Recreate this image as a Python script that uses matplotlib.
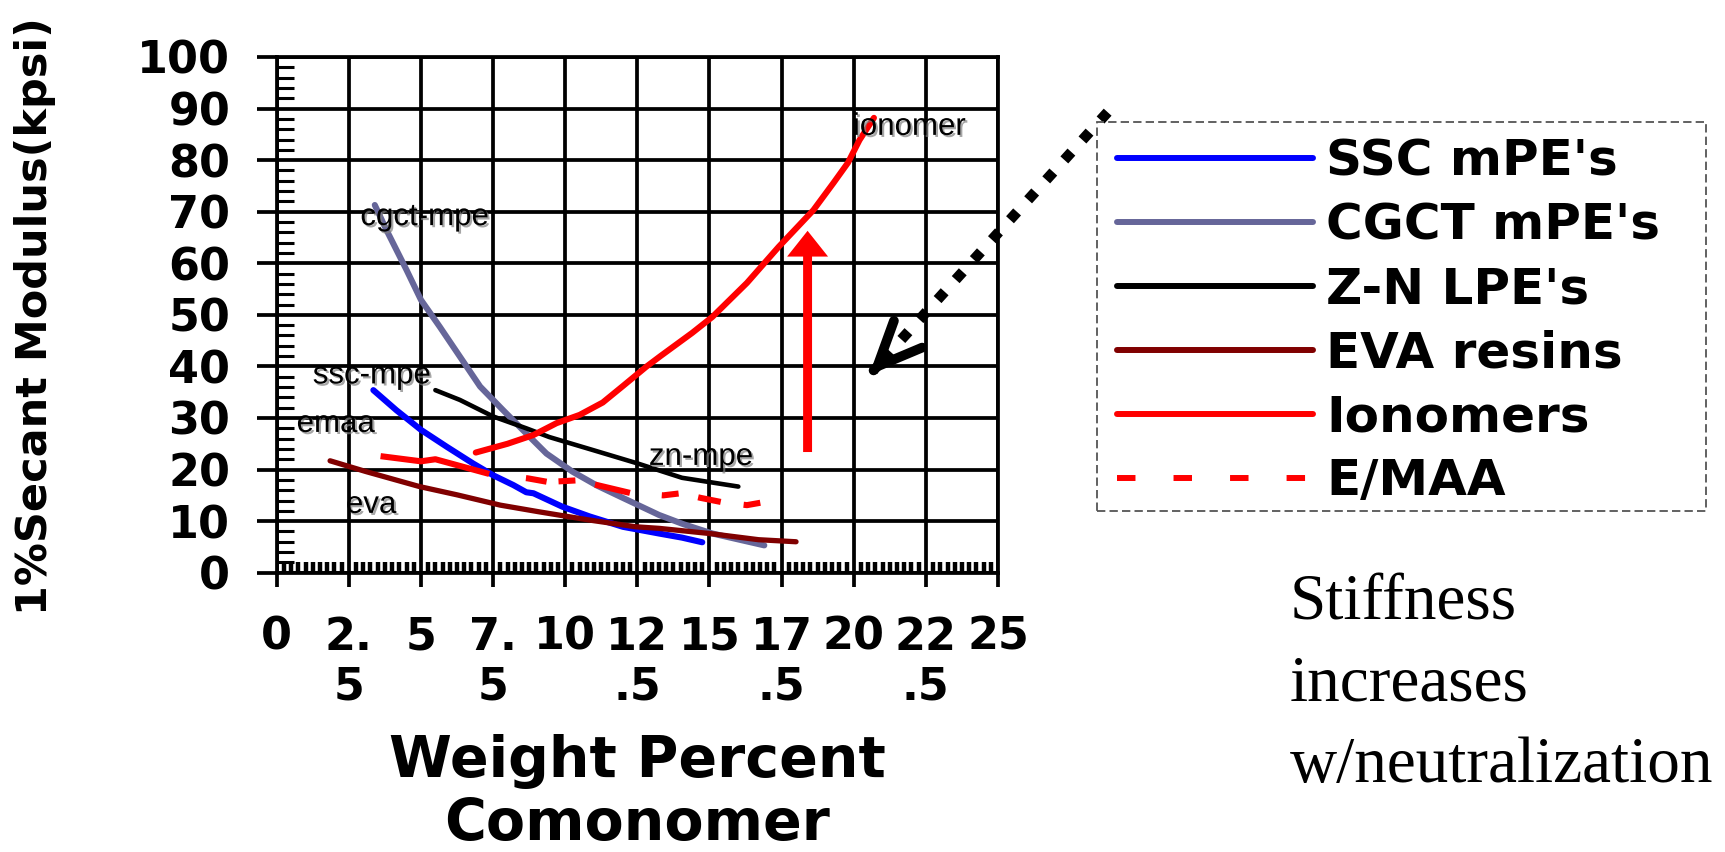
import numpy as np
import matplotlib
matplotlib.use('Agg')
import matplotlib.pyplot as plt
import matplotlib.patheffects as pe
from matplotlib.lines import Line2D
from matplotlib.patches import Rectangle
from matplotlib.ticker import MultipleLocator

plt.rcParams['lines.scale_dashes'] = False

# --- values (wt% comonomer, kpsi) ---
ssc_x = [3.35, 4.15, 5.0, 5.9, 6.8, 7.5, 8.2, 8.65, 8.9, 9.9, 10.85, 12.0, 13.25, 14.05, 14.75]
ssc_y = [35.4, 31.5, 27.7, 24.4, 21.2, 18.9, 17.0, 15.6, 15.4, 12.8, 10.9, 8.9, 7.6, 6.8, 5.9]

cgct_x = [3.4, 3.8, 4.5, 5.0, 5.65, 6.35, 7.05, 7.85, 8.65, 9.35, 10.25, 11.1, 12.0, 13.25, 14.1, 15.1, 16.9]
cgct_y = [71.3, 66.5, 58.7, 52.9, 47.7, 41.9, 36.1, 31.5, 27.0, 23.1, 19.6, 16.9, 14.5, 11.2, 9.4, 7.6, 5.3]

zn_x = [5.5, 6.35, 7.5, 8.65, 9.45, 10.95, 12.5, 14.05, 16.0]
zn_y = [35.4, 33.5, 30.3, 28.0, 26.3, 23.8, 21.2, 18.4, 16.7]

eva_x = [1.85, 3.1, 4.95, 6.25, 7.75, 9.1, 10.85, 12.45, 13.25, 15.0, 16.7, 18.0]
eva_y = [21.7, 19.6, 16.7, 15.1, 13.1, 11.8, 10.2, 8.9, 8.6, 7.6, 6.4, 6.0]

ion_x = [6.9, 8.0, 8.9, 9.7, 10.5, 11.3, 12.0, 12.8, 13.3, 14.4, 15.1, 16.3, 17.4, 18.6, 19.3, 19.8, 20.2, 20.7]
ion_y = [23.3, 25.0, 26.7, 29.0, 30.6, 33.0, 36.2, 39.9, 42.0, 46.5, 49.6, 56.2, 63.2, 70.3, 75.6, 79.5, 83.9, 88.2]

emaa_x = [3.6, 5.0, 5.5, 7.4, 8.7, 9.4, 10.4, 11.1, 12.3, 13.4, 14.0, 14.7, 15.5, 16.3, 16.9]
emaa_y = [22.6, 21.6, 22.0, 19.1, 18.3, 17.6, 17.9, 17.0, 15.4, 15.0, 15.4, 14.5, 13.6, 13.1, 13.7]

series_names = ["SSC mPE's", "CGCT mPE's", "Z-N LPE's", "EVA resins", "Ionomers", "E/MAA"]

xtick_vals = [0, 2.5, 5, 7.5, 10, 12.5, 15, 17.5, 20, 22.5, 25]
xtick_labels = ['0', '2.\n5', '5', '7.\n5', '10', '12\n.5', '15', '17\n.5', '20', '22\n.5', '25']

# curve labels: text, x, y (baseline)
curve_labels = [('cgct-mpe', 2.9, 67.4), ('ssc-mpe', 1.25, 36.7), ('emaa', 0.69, 27.3),
                ('eva', 2.4, 11.6), ('zn-mpe', 12.9, 20.9), ('ionomer', 19.97, 84.9)]

W, H = 1725, 852
fig = plt.figure(figsize=(W / 100, H / 100), dpi=100)
ax = fig.add_axes([276.7 / W, 1 - 572.7 / H, 721.3 / W, 515.7 / H])

lw_grid = 2.7
ax.set_xlim(0, 25)
ax.set_ylim(0, 100)
ax.grid(True, which='major', color='black', lw=lw_grid, zorder=0)
ax.set_axisbelow(True)
for s in ax.spines.values():
    s.set_linewidth(lw_grid)

ax.set_xticks(xtick_vals)
ax.set_xticklabels(xtick_labels)
ax.xaxis.set_minor_locator(MultipleLocator(0.25))
ax.yaxis.set_major_locator(MultipleLocator(10))
ax.yaxis.set_minor_locator(MultipleLocator(2))
ax.tick_params(axis='x', which='major', direction='out', length=10, width=lw_grid, pad=21)
ax.tick_params(axis='x', which='minor', direction='in', length=8, width=3.2)
ax.tick_params(axis='y', which='major', direction='out', length=14.4, width=lw_grid, pad=19)
ax.tick_params(axis='y', which='minor', direction='in', length=12, width=2.2)
for lbl in ax.get_xticklabels() + ax.get_yticklabels():
    lbl.set_fontsize(32)
    lbl.set_fontweight('bold')
for lbl in ax.get_xticklabels():
    lbl.set_linespacing(1.2)

# curves
ax.plot(ssc_x, ssc_y, color='#0000ff', lw=4.4, solid_capstyle='round', zorder=3)
ax.plot(cgct_x, cgct_y, color='#666699', lw=4.4, solid_capstyle='round', zorder=3)
ax.plot(zn_x, zn_y, color='black', lw=3.3, solid_capstyle='round', zorder=3)
ax.plot(eva_x, eva_y, color='#800000', lw=3.8, solid_capstyle='round', zorder=3)
ax.plot(ion_x, ion_y, color='#ff0000', lw=4.4, solid_capstyle='round', zorder=3)
ax.plot(emaa_x, emaa_y, color='#ff0000', lw=4.4, dash_capstyle='butt',
        linestyle=(0, (80, 26.6, 15.1, 8.6, 12.2, 14.4, 25.9, 23.0, 12.2, 14.4, 16.6, 16.6, 12.2, 43)),
        zorder=3)

shadow = [pe.SimplePatchShadow(offset=(1.5, -1.5), shadow_rgbFace='0.5', alpha=0.7), pe.Normal()]
for txt, tx, ty in curve_labels:
    ax.text(tx, ty, txt, fontsize=22.5, family='Liberation Sans', va='baseline', ha='left',
            path_effects=shadow, zorder=4)

# red arrow: stiffness increase
ax.arrow(18.4, 23.4, 0, 42.9, width=0.31, head_width=1.42, head_length=5.0,
         length_includes_head=True, fc='#ff0000', ec='none', zorder=4)

# dotted black arrow coming from the legend
ax.plot([28.8, 20.9], [89.3, 40.6], color='black', lw=7.6, linestyle=(0, (7.6, 11.8)),
        dash_capstyle='butt', clip_on=False, zorder=5)
ax.annotate('', xy=(20.53, 38.3), xytext=(20.7, 39.3), annotation_clip=False,
            arrowprops=dict(arrowstyle='->,head_length=3.2,head_width=1.4', lw=7,
                            color='black', shrinkA=0, shrinkB=0), zorder=5)

# axis titles
fig.text(35 / W, 1 - 316 / H, '1%Secant Modulus(kpsi)', rotation=90, ha='center', va='center',
         fontsize=31, fontweight='bold')
fig.text(637 / W, 1 - 840 / H, 'Weight Percent\nComonomer', ha='center', va='baseline',
         fontsize=41, fontweight='bold', linespacing=1.19, multialignment='center')

# legend
handles = [Line2D([], [], color='#0000ff', lw=4.3, solid_capstyle='round'),
           Line2D([], [], color='#666699', lw=4.3, solid_capstyle='round'),
           Line2D([], [], color='black', lw=4.3, solid_capstyle='round'),
           Line2D([], [], color='#800000', lw=4.3, solid_capstyle='round'),
           Line2D([], [], color='#ff0000', lw=4.3, solid_capstyle='round'),
           Line2D([], [], color='#ff0000', lw=4.3, linestyle=(0, (13.3, 27.4)), dash_capstyle='butt')]
fig.legend(handles, series_names, loc='upper left', bbox_to_anchor=(1117 / W, 1 - 137 / H),
           bbox_transform=fig.transFigure, frameon=False,
           prop=dict(family='DejaVu Sans', weight='bold', size=36),
           handlelength=3.92, handletextpad=0.26, labelspacing=0.32, borderpad=0, borderaxespad=0)
fig.add_artist(Rectangle((1097 / W, 1 - 511 / H), 609 / W, 389 / H, transform=fig.transFigure,
                         fill=False, ec='#555555', lw=1.3, ls=(0, (6, 3))))

fig.text(1290 / W, 1 - 782 / H, 'Stiffness\nincreases\nw/neutralization', ha='left', va='baseline',
         fontsize=47, family='Liberation Serif', linespacing=1.48)

fig.savefig('out.png', dpi=100)
